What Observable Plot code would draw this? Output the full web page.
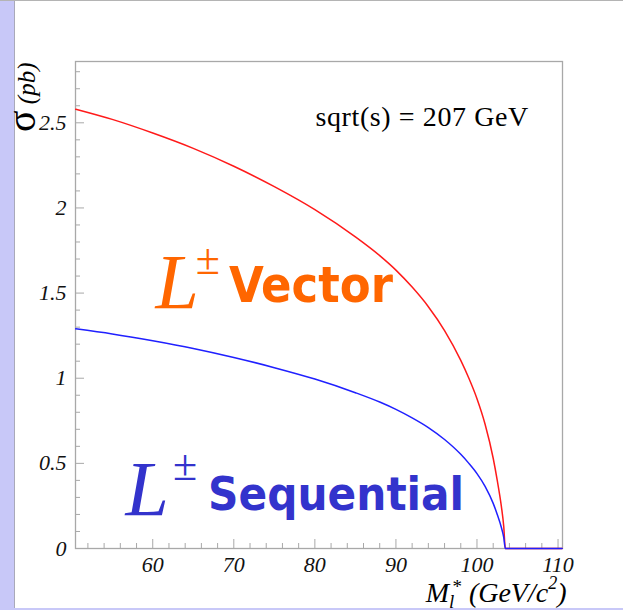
<!DOCTYPE html>
<html><head><meta charset="utf-8">
<script src="https://cdn.jsdelivr.net/npm/d3@7"></script>
<script src="https://cdn.jsdelivr.net/npm/@observablehq/plot@0.6"></script>
<style>
html,body{margin:0;padding:0;background:#fff;}
#wrap{position:relative;width:623px;height:610px;overflow:hidden;background:#fff;}
#strip{position:absolute;left:0;top:0;width:14px;height:610px;background:#c8c8f8;border-right:1px solid #a9a9b9;}
#topline{position:absolute;left:0;top:0;width:623px;height:1px;background:#b4b4b4;}
#botline{position:absolute;left:0;top:608px;width:623px;height:2px;background:#c8c8f8;}
#chart{position:absolute;left:0;top:0;}
</style></head><body>
<div id="wrap"><div id="strip"></div><div id="topline"></div><div id="botline"></div><div id="chart"></div></div>
<script>
// excited lepton mass (GeV/c^2)
const mass = [50.5, 55, 60, 65, 70, 75, 80, 85, 88, 90, 92, 94, 96, 98, 99, 100, 101, 102, 102.5, 103, 103.3, 103.5, 110.5];
// cross sections (pb)
const sigmaVector = [2.58, 2.52, 2.44, 2.35, 2.245, 2.125, 1.99, 1.83, 1.72, 1.635, 1.535, 1.42, 1.28, 1.105, 1.0, 0.88, 0.73, 0.53, 0.40, 0.25, 0.13, 0, 0];
const sigmaSequential = [1.29, 1.26, 1.22, 1.175, 1.122, 1.062, 0.995, 0.915, 0.86, 0.817, 0.767, 0.71, 0.64, 0.553, 0.5, 0.44, 0.365, 0.265, 0.2, 0.125, 0.065, 0, 0];

const xMajorTicks = [60, 70, 80, 90, 100, 110];
const xMinorTicks = [52, 54, 56, 58, 62, 64, 66, 68, 72, 74, 76, 78, 82, 84, 86, 88, 92, 94, 96, 98, 102, 104, 106, 108];
const yMajorTicks = [0, 0.5, 1, 1.5, 2, 2.5];
const yMinorTicks = [0.1, 0.2, 0.3, 0.4, 0.6, 0.7, 0.8, 0.9, 1.1, 1.2, 1.3, 1.4, 1.6, 1.7, 1.8, 1.9, 2.1, 2.2, 2.3, 2.4, 2.6, 2.7, 2.8];

const energyLabel = "sqrt(s) = 207 GeV";
const vectorLabel = "L±Vector";
const sequentialLabel = "L±Sequential";
const yTitle = "σ (pb)";
const xTitle = "Ml* (GeV/c2)";

const vectorRows = mass.map((m, i) => ({m, s: sigmaVector[i]}));
const seqRows = mass.map((m, i) => ({m, s: sigmaSequential[i]}));

const serif = "'Liberation Serif', 'Times New Roman', serif";
const comic = "'Comic Sans MS', 'DejaVu Sans Condensed', 'DejaVu Sans', sans-serif";
const gray = "#a8a8a8";

const chart = Plot.plot({
  width: 623, height: 610,
  marginLeft: 75, marginRight: 61, marginTop: 61, marginBottom: 62,
  style: {background: "transparent", fontFamily: serif, color: "#000"},
  x: {domain: [50.47, 110.55]},
  y: {domain: [0, 2.86]},
  marks: [
    Plot.frame({stroke: gray, strokeWidth: 1.3}),
    Plot.axisX({ticks: xMinorTicks, tickSize: -5, tickFormat: () => "", stroke: gray, label: null}),
    Plot.axisX({ticks: xMajorTicks, tickSize: -9, tickFormat: () => "", stroke: gray, label: null}),
    Plot.axisX({ticks: xMajorTicks, tickSize: 0, tickPadding: 8, fontSize: 22, fontStyle: "italic", fill: "#111", label: null}),
    Plot.axisY({ticks: yMinorTicks, tickSize: -5, tickFormat: () => "", stroke: gray, label: null}),
    Plot.axisY({ticks: yMajorTicks, tickSize: -9, tickFormat: () => "", stroke: gray, label: null}),
    Plot.axisY({ticks: yMajorTicks, tickSize: 0, tickPadding: 9, fontSize: 22, fontStyle: "italic", fill: "#111", label: null, tickFormat: d => String(d)}),
    Plot.line(vectorRows, {x: "m", y: "s", stroke: "#ff1a1a", strokeWidth: 1.5, curve: "monotone-x"}),
    Plot.line(seqRows, {x: "m", y: "s", stroke: "#2020ff", strokeWidth: 1.5, curve: "monotone-x"}),
    Plot.text([energyLabel], {x: 80.08, y: 2.48, text: d => d, textAnchor: "start", lineAnchor: "bottom", fontSize: 28, fill: "#000"}),
    Plot.text([vectorLabel], {x: 60.33, y: 1.415, text: d => d, textAnchor: "start", lineAnchor: "bottom", fill: "#ff6600"}),
    Plot.text([sequentialLabel], {x: 56.64, y: 0.194, text: d => d, textAnchor: "start", lineAnchor: "bottom", fill: "#3333cc"}),
    Plot.text([yTitle], {frameAnchor: "top-left", dx: -41, dy: 1, rotate: -90, text: d => d, textAnchor: "end", lineAnchor: "bottom", fill: "#000"}),
    Plot.text([xTitle], {frameAnchor: "bottom-right", dx: 4, dy: 53, text: d => d, textAnchor: "end", lineAnchor: "bottom", fill: "#000"})
  ]
});

document.getElementById("chart").appendChild(chart);

d3.select(chart).selectAll("text").filter(function() { return this.textContent === energyLabel; })
  .style("letter-spacing", "0.6px");

function rich(label, parts) {
  d3.select(chart).selectAll("text").filter(function() { return this.textContent === label; }).each(function() {
    const el = d3.select(this);
    el.text(null);
    for (const p of parts) {
      const t = el.append("tspan").text(p.t);
      t.attr("font-family", p.ff || serif).attr("font-size", p.size);
      if (p.italic) t.attr("font-style", "italic");
      if (p.bold) t.attr("font-weight", "bold");
      if (p.dx) t.attr("dx", p.dx);
      if (p.dy) t.attr("dy", p.dy);
    }
  });
}

rich(vectorLabel, [
  {t: "L", italic: true, size: 78},
  {t: "±", size: 44, dx: -3, dy: -34},
  {t: "Vector", ff: comic, bold: true, size: 50, dx: 9, dy: 28}
]);
rich(sequentialLabel, [
  {t: "L", italic: true, size: 78},
  {t: "±", size: 44, dx: 4, dy: -35},
  {t: "Sequential", ff: comic, bold: true, size: 47, dx: 11, dy: 30}
]);
rich(yTitle, [
  {t: "σ", size: 40},
  {t: " (pb)", italic: true, size: 25}
]);
rich(xTitle, [
  {t: "M", italic: true, size: 28},
  {t: "l", italic: true, size: 19, dy: 6},
  {t: "*", size: 19, dx: -2, dy: -15},
  {t: " (GeV/c", italic: true, size: 28, dy: 9},
  {t: "2", italic: true, size: 18, dy: -13},
  {t: ")", italic: true, size: 28, dy: 13}
]);
</script>
</body></html>
